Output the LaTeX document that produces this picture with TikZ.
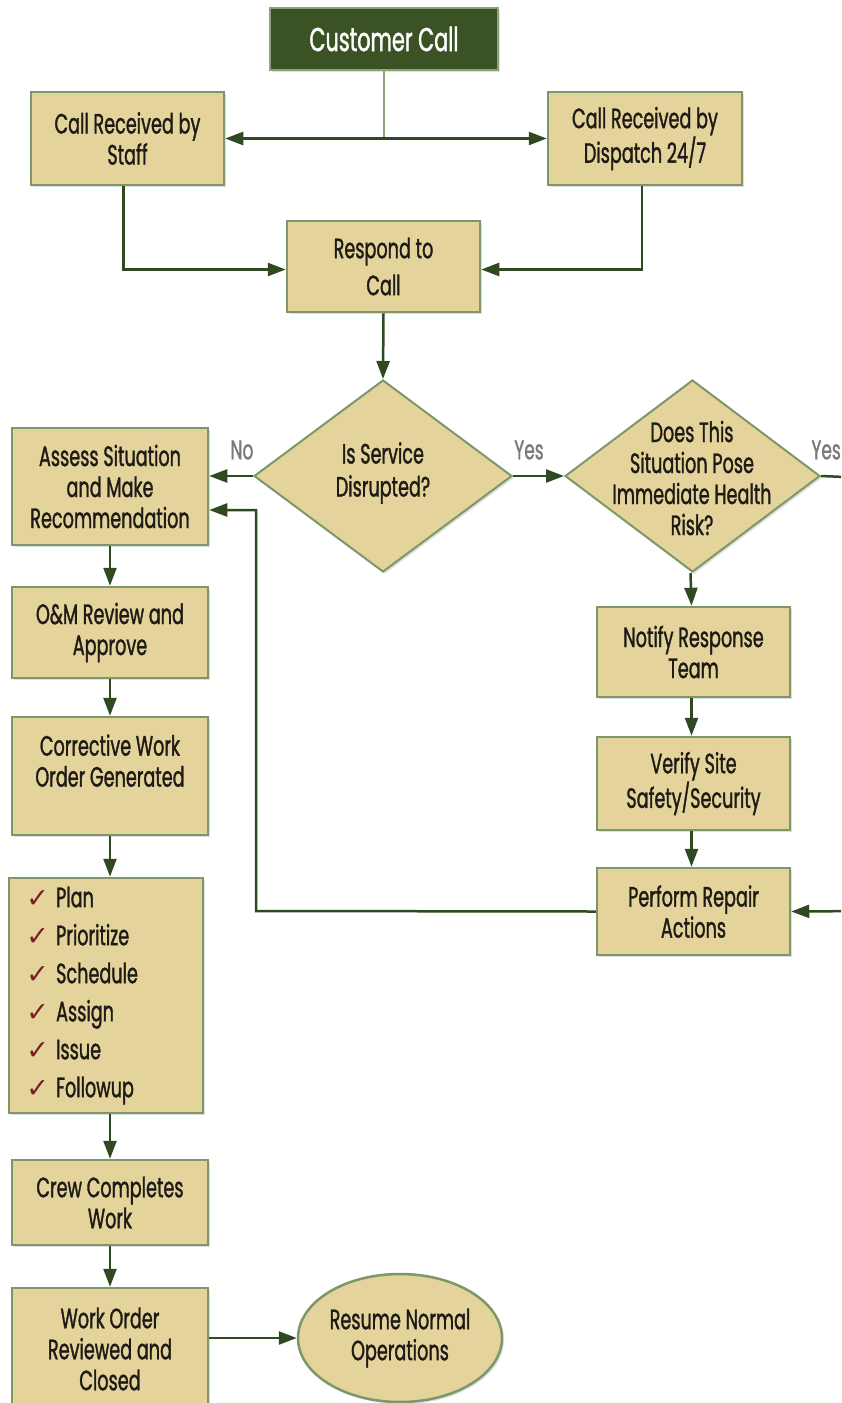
\documentclass[tikz,border=0pt]{standalone}
\usepackage{fontspec}
\usetikzlibrary{shapes.geometric,arrows.meta,shadows,calc}
\newfontfamily\cond[FakeStretch=0.63,FakeBold=1.2]{Poppins}
\newfontfamily\dejavu{DejaVu Sans}
\definecolor{boxfill}{HTML}{E4D49C}
\definecolor{boxborder}{HTML}{7E9769}
\definecolor{darkgreen}{HTML}{3A5224}
\definecolor{linegreen}{HTML}{2F4A22}
\definecolor{lightline}{HTML}{8CA07A}
\definecolor{checkred}{HTML}{7A1E22}
\definecolor{labelgray}{HTML}{7A7A7A}
\definecolor{textdark}{HTML}{1E1B16}
\tikzset{
  box/.style={draw=boxborder, line width=2.5pt, fill=boxfill, align=center,
    inner sep=0pt, text=textdark,
    font=\cond\fontsize{28}{31}\selectfont,
    drop shadow={opacity=0.25, shadow xshift=2pt, shadow yshift=-2pt}},
  dia/.style={shape=diamond, draw=boxborder, line width=2pt, fill=boxfill,
    inner sep=0pt, drop shadow={opacity=0.25, shadow xshift=2pt, shadow yshift=-2pt}},
  diatext/.style={align=center, text=textdark, font=\cond\fontsize{28}{31}\selectfont, inner sep=0pt},
  conn/.style={draw=linegreen, line width=2.5pt},
  arr/.style={conn, -{Triangle[length=18pt,width=13pt]}},
  lab/.style={text=labelgray, font=\cond\fontsize{27}{28}\selectfont, inner sep=0pt},
}
\newcommand{\chkmark}{\hspace*{8pt}{\color{checkred}\dejavu\fontsize{27}{38}\selectfont ✓}\hspace{7pt}}
\begin{document}
\begin{tikzpicture}[x=1pt,y=-1pt]
\useasboundingbox (0,0) rectangle (841,1403);
\clip (0,0) rectangle (841,1403);
\fill[white] (0,0) rectangle (841,1403);

% top
\node[box, fill=darkgreen, draw=lightline, text=white, minimum width=228pt, minimum height=62pt,
  font=\cond\fontsize{33}{34}\selectfont] (cc) at (384,39) {Customer Call};
\node[box, minimum width=193pt, minimum height=93pt] (staff) at (127.5,138.5) {Call Received by\\Staff};
\node[box, minimum width=194pt, minimum height=93pt] (dispatch) at (645,138.5) {Call Received by\\Dispatch 24/7};
\node[box, minimum width=193pt, minimum height=91pt, font=\cond\fontsize{28}{37}\selectfont] (respond) at (383.5,266.5) {Respond to\\Call};

% diamonds
\node[dia, minimum width=258pt, minimum height=192pt] (d1) at (383,476) {};
\node[diatext, font=\cond\fontsize{28}{33}\selectfont] (d1t) at (383,473) {Is Service\\Disrupted?};
\node[dia, minimum width=255pt, minimum height=192pt] (d2) at (692.5,476) {};
\node[diatext] (d2t) at (692,478) {Does This\\Situation Pose\\Immediate Health\\Risk?};

\node[lab] (no) at (242,450) {No};
\node[lab] (yes1) at (529,450) {Yes};
\node[lab, anchor=east] (yes2) at (841,450) {Yes};

% left column
\node[box, minimum width=196pt, minimum height=117pt] (assess) at (110,486.5) {Assess Situation\\and Make\\Recommendation};
\node[box, minimum width=196pt, minimum height=91pt] (om) at (110,632.5) {O\&M Review and\\Approve};
\node[box, minimum width=196pt, minimum height=118pt] (corr) at (110,776) {Corrective Work\\Order Generated\\\mbox{}};
\node[box, minimum width=194pt, minimum height=235pt, align=left, text width=175pt,
  font=\cond\fontsize{28}{38}\selectfont] (check) at (106,995.5)
  {\chkmark Plan\\
   \chkmark Prioritize\\
   \chkmark Schedule\\
   \chkmark Assign\\
   \chkmark Issue\\
   \chkmark Followup};
\node[box, minimum width=196pt, minimum height=85pt] (crew) at (110,1202.5) {Crew Completes\\Work};
\node[box, minimum width=196pt, minimum height=122pt] (wo) at (110,1349) {Work Order\\Reviewed and\\Closed};
\node[box, shape=ellipse, minimum width=204pt, minimum height=128pt] (resume) at (400,1338) {Resume Normal\\Operations};

% right column
\node[box, minimum width=193pt, minimum height=90pt] (notify) at (693.5,652) {Notify Response\\Team};
\node[box, minimum width=193pt, minimum height=93pt] (verify) at (693.5,783.5) {Verify Site\\Safety/Security};
\node[box, minimum width=193pt, minimum height=87pt] (perform) at (693.5,911.5) {Perform Repair\\Actions};

\coordinate (offA) at (870,478);
\coordinate (offB) at (870,911);
\coordinate (loopx) at (256,911);

% connectors
\draw[draw=lightline, line width=2.5pt] (cc.south) -- (cc.south |- staff.east);
\draw[conn, {Triangle[length=18pt,width=13pt]}-{Triangle[length=18pt,width=13pt]}] (staff.east) -- (dispatch.west);
\draw[arr] ([xshift=-4pt]staff.south) |- ([yshift=-3pt]respond.west);
\draw[arr] ([xshift=-3pt]dispatch.south) |- ([yshift=-3pt]respond.east);
\draw[arr] (respond.south) -- (d1.north);
\draw[arr] (d1.west) -- (d1.west -| assess.east);
\draw[arr] (d1.east) -- (d2.west);
\draw[conn] (d2.east) -- (offA);
\draw[arr] ([xshift=-2pt]d2.south) -- ([xshift=-2pt]notify.north);
\draw[arr] ([xshift=-2pt]notify.south) -- ([xshift=-2pt]verify.north);
\draw[arr] ([xshift=-2pt]verify.south) -- ([xshift=-2pt]perform.north);
\draw[arr] (offB) -- (perform.east);
\draw[arr] (perform.west) -- (loopx) -- (loopx |- 0,510) -- (assess.east |- 0,510);

\draw[arr] (assess.south) -- (om.north);
\draw[arr] (om.south) -- (corr.north);
\draw[arr] (corr.south) -- (corr.south |- check.north);
\draw[arr] (corr.south |- check.south) -- (crew.north);
\draw[arr] (crew.south) -- (wo.north);
\draw[arr] (wo.east |- resume.west) -- (resume.west);
\end{tikzpicture}
\end{document}
